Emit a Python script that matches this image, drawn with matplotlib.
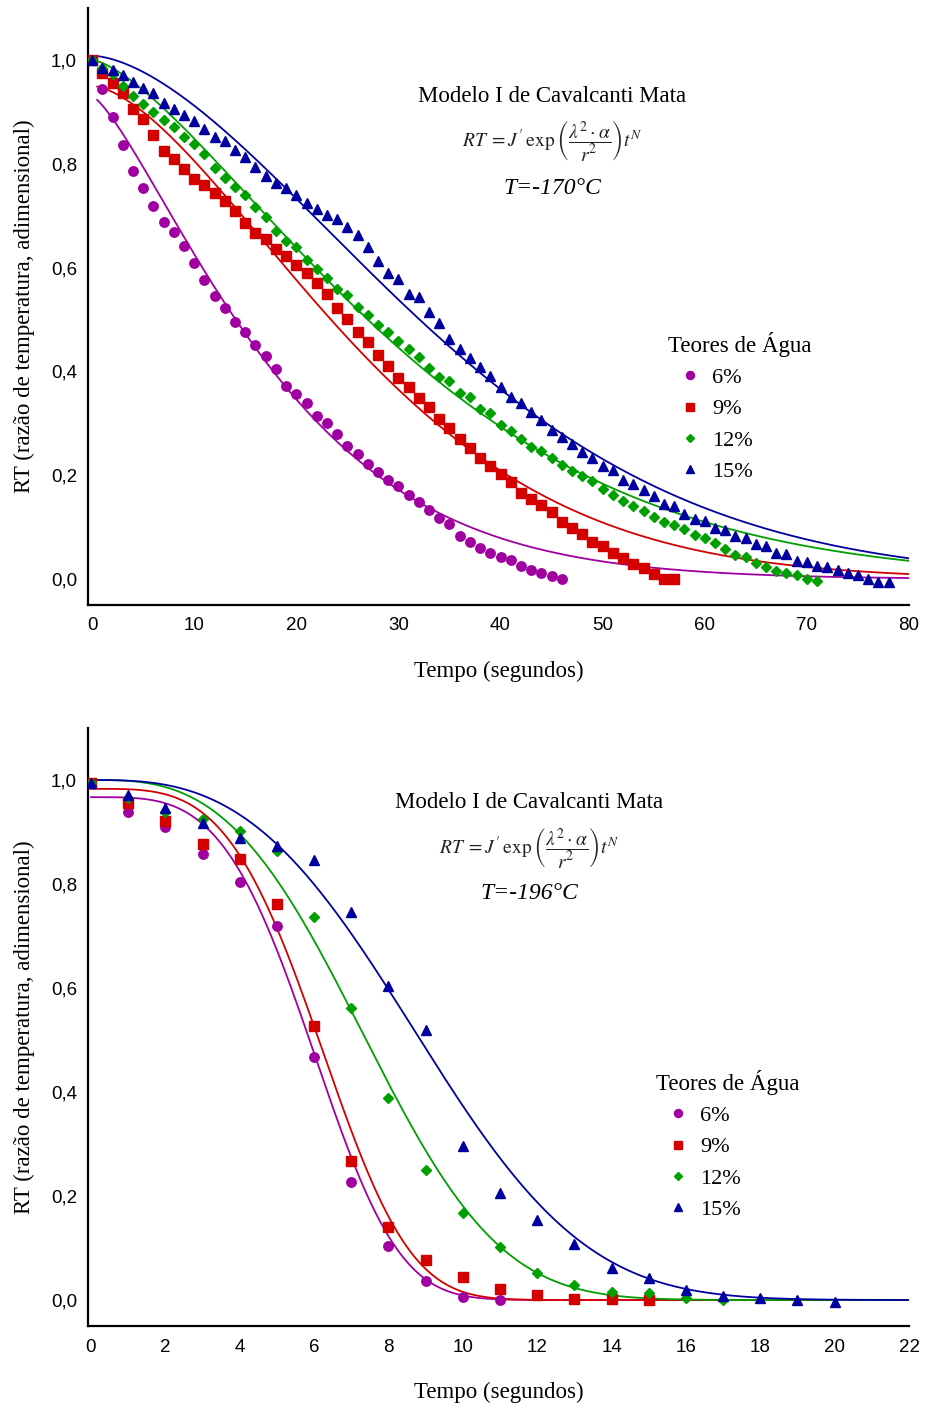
import numpy as np
import matplotlib
matplotlib.use('Agg')
import matplotlib.pyplot as plt

W, H = 925, 1408

# teores de agua
labels = ['6%', '9%', '12%', '15%']
colours = ['#a000a0', '#d40000', '#00a000', '#0000a0']
markers = ['o', 's', 'D', '^']
msizes = [6.8, 6.8, 5.2, 7.2]

# T = -170 C, leituras a cada segundo
rt6_170 = [1.0, 0.944, 0.890, 0.836, 0.786, 0.754, 0.719, 0.688, 0.669, 0.642,
           0.608, 0.577, 0.546, 0.523, 0.496, 0.476, 0.450, 0.430, 0.404, 0.372,
           0.356, 0.340, 0.315, 0.300, 0.279, 0.257, 0.241, 0.222, 0.207, 0.191,
           0.179, 0.161, 0.149, 0.133, 0.118, 0.106, 0.083, 0.071, 0.059, 0.051,
           0.043, 0.037, 0.025, 0.018, 0.011, 0.005, 0.0]
rt9_170 = [1.0, 0.974, 0.955, 0.936, 0.906, 0.886, 0.855, 0.825, 0.809, 0.789,
           0.771, 0.759, 0.743, 0.728, 0.709, 0.685, 0.666, 0.655, 0.636, 0.623,
           0.605, 0.589, 0.570, 0.550, 0.523, 0.501, 0.476, 0.457, 0.432, 0.411,
           0.388, 0.369, 0.349, 0.331, 0.308, 0.290, 0.269, 0.252, 0.234, 0.218,
           0.202, 0.186, 0.165, 0.155, 0.143, 0.129, 0.110, 0.098, 0.086, 0.072,
           0.064, 0.051, 0.041, 0.029, 0.021, 0.010, 0.0, 0.0]
rt12_170 = [1.0, 0.985, 0.972, 0.950, 0.931, 0.915, 0.899, 0.884, 0.870, 0.852,
            0.838, 0.818, 0.791, 0.772, 0.756, 0.740, 0.717, 0.698, 0.671, 0.651,
            0.640, 0.615, 0.597, 0.579, 0.559, 0.547, 0.525, 0.509, 0.489, 0.475,
            0.459, 0.443, 0.428, 0.406, 0.390, 0.381, 0.359, 0.350, 0.328, 0.320,
            0.297, 0.286, 0.269, 0.254, 0.247, 0.234, 0.220, 0.209, 0.199, 0.189,
            0.173, 0.162, 0.150, 0.141, 0.131, 0.119, 0.110, 0.104, 0.096, 0.085,
            0.080, 0.069, 0.057, 0.046, 0.043, 0.031, 0.023, 0.015, 0.012, 0.008,
            0.001, -0.004]
rt15_170 = [1.0, 0.985, 0.981, 0.971, 0.957, 0.945, 0.936, 0.917, 0.906, 0.894,
            0.882, 0.867, 0.852, 0.844, 0.827, 0.813, 0.793, 0.777, 0.762, 0.754,
            0.739, 0.724, 0.713, 0.701, 0.694, 0.678, 0.663, 0.639, 0.613, 0.590,
            0.578, 0.550, 0.543, 0.515, 0.493, 0.462, 0.443, 0.426, 0.408, 0.392,
            0.369, 0.350, 0.339, 0.322, 0.306, 0.287, 0.273, 0.260, 0.245, 0.234,
            0.218, 0.210, 0.191, 0.184, 0.171, 0.160, 0.145, 0.141, 0.125, 0.115,
            0.112, 0.099, 0.094, 0.083, 0.080, 0.067, 0.064, 0.051, 0.048, 0.035,
            0.032, 0.025, 0.023, 0.017, 0.011, 0.008, 0.001, -0.005, -0.005]

# T = -196 C
rt6_196 = [0.995, 0.938, 0.910, 0.857, 0.803, 0.719, 0.468, 0.226, 0.103, 0.037,
           0.006, 0.0]
rt9_196 = [0.995, 0.956, 0.921, 0.876, 0.849, 0.761, 0.526, 0.267, 0.141, 0.076,
           0.045, 0.021, 0.010, 0.002, 0.002, 0.0]
rt12_196 = [0.995, 0.965, 0.939, 0.925, 0.902, 0.864, 0.736, 0.562, 0.389, 0.250,
            0.167, 0.101, 0.051, 0.028, 0.015, 0.013, 0.004, 0.0]
rt15_196 = [0.995, 0.972, 0.947, 0.917, 0.889, 0.873, 0.847, 0.747, 0.604, 0.519,
            0.297, 0.205, 0.154, 0.108, 0.062, 0.043, 0.019, 0.008, 0.004, 0.0,
            -0.003]

# parametros do ajuste RT = a*exp(-k*t^n)
a_170 = [0.93, 0.95, 1.0, 1.008]
k_170 = [0.01895, 0.004144, 0.00583, 0.002142]
n_170 = [1.32, 1.6, 1.45, 1.67]
tini_170 = [0.5, 0.5, 0.0, 0.5]

a_196 = [0.967, 0.983, 1.0, 1.0]
k_196 = [9.4e-4, 8.25e-4, 1.71e-3, 1.24e-3]
n_196 = [3.7, 3.7, 3.0, 2.9]
tini_196 = [0.0, 0.0, 0.0, 0.0]

xticks_170 = [0, 10, 20, 30, 40, 50, 60, 70, 80]
xticks_196 = [0, 2, 4, 6, 8, 10, 12, 14, 16, 18, 20, 22]
yticks = [0.0, 0.2, 0.4, 0.6, 0.8, 1.0]

serif = 'Liberation Serif'
sans = 'Liberation Sans'
plt.rcParams['mathtext.fontset'] = 'stix'


def fig_xy(x, y):
    return x / W, 1 - y / H


def panel(ax, series, a, k, n, tini, tmax, xlim, xticks, temp, txt_x, txt_y,
          leg_xy):
    for i in range(4):
        rt = series[i]
        t = np.arange(len(rt))
        ax.plot(t, rt, linestyle='none', marker=markers[i], ms=msizes[i],
                color=colours[i], label=labels[i], zorder=3)
        tc = np.linspace(tini[i], tmax, 400)
        ax.plot(tc, a[i] * np.exp(-k[i] * tc ** n[i]), color=colours[i],
                lw=1.3, zorder=2)

    ax.set_xlim(xlim)
    ax.set_ylim(-0.05, 1.1)
    ax.set_xticks(xticks)
    ax.set_yticks(yticks)
    ax.set_yticklabels([('%.1f' % v).replace('.', ',') for v in yticks])
    ax.tick_params(length=0, labelsize=13.5)
    ax.tick_params(axis='x', pad=9)
    ax.tick_params(axis='y', pad=8)
    for lab in ax.get_xticklabels() + ax.get_yticklabels():
        lab.set_family(sans)
    for s in ['top', 'right']:
        ax.spines[s].set_visible(False)
    ax.spines['left'].set_linewidth(1.6)
    ax.spines['bottom'].set_linewidth(1.6)

    ax.set_xlabel('Tempo (segundos)', family=serif, fontsize=16.5)
    ax.set_ylabel('RT (razão de temperatura, adimensional)', family=serif,
                  fontsize=16.5)
    ax.xaxis.set_label_coords(0.5, -0.094)
    ax.yaxis.set_label_coords(-0.064, 0.5)

    # titulo do modelo
    x, y = fig_xy(txt_x, txt_y)
    fig.text(x, y, 'Modelo I de Cavalcanti Mata', family=serif, fontsize=16.5,
             ha='center', va='center')
    x, y = fig_xy(txt_x, txt_y + 45)
    fig.text(x, y, r'$RT\;=J^{\prime}\,\exp\left(\dfrac{\lambda^2\cdot\alpha}{r^2}\right)t^N$',
             fontsize=14, ha='center', va='center', color='#222222')
    x, y = fig_xy(txt_x, txt_y + 92)
    fig.text(x, y, temp, family=serif, style='italic', fontsize=17,
             ha='center', va='center')

    leg = ax.legend(title='Teores de Água', loc='upper left',
                    bbox_to_anchor=fig_xy(*leg_xy),
                    bbox_transform=fig.transFigure, frameon=False,
                    prop={'family': serif, 'size': 16},
                    title_fontproperties={'family': serif, 'size': 16.5},
                    handlelength=2.0, handletextpad=0.0, labelspacing=0.48,
                    borderpad=0, borderaxespad=0, alignment='left',
                    markerscale=0.85)
    return leg


fig = plt.figure(figsize=(W / 100, H / 100), dpi=100)

ax1 = fig.add_axes([88 / W, 1 - 605 / H, 821 / W, 597 / H])
panel(ax1, [rt6_170, rt9_170, rt12_170, rt15_170], a_170, k_170, n_170,
      tini_170, 80, (-0.4, 80), xticks_170, 'T=-170°C', 552, 96, (668, 332))

ax2 = fig.add_axes([88 / W, 1 - 1326 / H, 821 / W, 598 / H])
panel(ax2, [rt6_196, rt9_196, rt12_196, rt15_196], a_196, k_196, n_196,
      tini_196, 22, (-0.08, 22), xticks_196, 'T=-196°C', 529, 802, (656, 1070))

fig.savefig('out.png', dpi=100)
